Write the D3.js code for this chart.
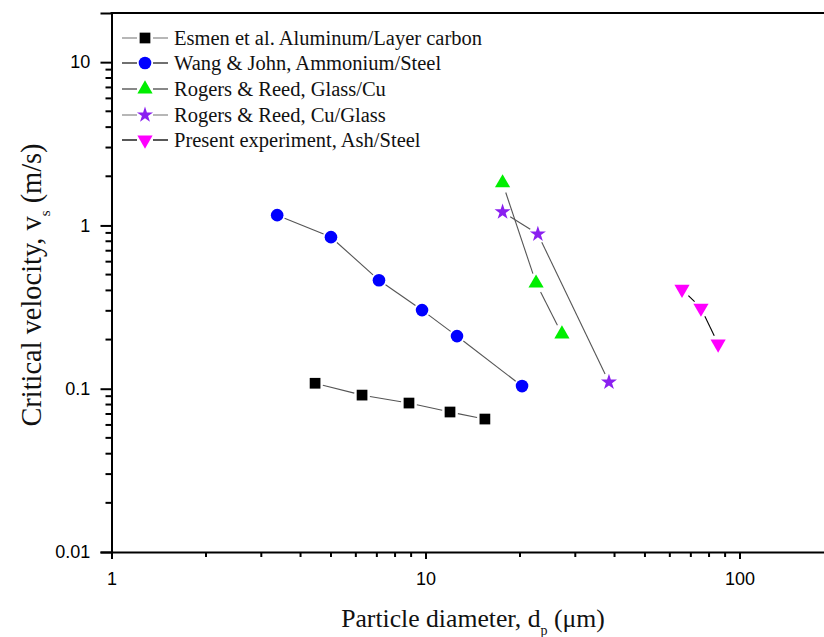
<!DOCTYPE html>
<html>
<head>
<meta charset="utf-8">
<script src="https://cdn.jsdelivr.net/npm/d3@7"></script>
<style>
  body { margin: 0; background: #fff; }
</style>
</head>
<body>
<script>
// data (diameter in um, velocity in m/s)
var esmen_d = [4.45, 6.28, 8.86, 11.97, 15.46]
var esmen_v = [0.108, 0.0914, 0.0817, 0.072, 0.0652]

var wang_d = [3.37, 5.0, 7.11, 9.75, 12.6, 20.3]
var wang_v = [1.156, 0.848, 0.462, 0.303, 0.21, 0.1038]

var rogers_gc_d = [17.6, 22.5, 27.2]
var rogers_gc_v = [1.82, 0.443, 0.216]

var rogers_cg_d = [17.6, 22.8, 38.4]
var rogers_cg_v = [1.21, 0.885, 0.1097]

var present_d = [65.6, 75.4, 85.5]
var present_v = [0.407, 0.312, 0.188]

var legend_labels = [
  'Esmen et al. Aluminum/Layer carbon',
  'Wang & John, Ammonium/Steel',
  'Rogers & Reed, Glass/Cu',
  'Rogers & Reed, Cu/Glass',
  'Present experiment, Ash/Steel'
]

var x_ticks = [1, 10, 100]
var y_ticks = [0.01, 0.1, 1, 10]

var W = 824
var H = 637
var svg = d3.select('body').append('svg').attr('width', W).attr('height', H)
  .style('font-family', 'Liberation Serif, Times New Roman, serif')

var plot_left = 111.5, plot_top = 13, plot_bottom = 552
var x = d3.scaleLog().domain([1, 200]).range([plot_left, 834])
var y = d3.scaleLog().domain([0.01, 20]).range([plot_bottom, plot_top])

var series = [
  { d: esmen_d, v: esmen_v, sym: d3.symbolSquare, size: 115, fill: '#000000', line: '#555', rot: 0, gap: 8 },
  { d: wang_d, v: wang_v, sym: d3.symbolCircle, size: 125, fill: '#0000ff', line: '#555', rot: 0, gap: 8 },
  { d: rogers_gc_d, v: rogers_gc_v, sym: d3.symbolTriangle, size: 100, fill: '#00ee00', line: '#555', rot: 0, gap: 10 },
  { d: rogers_cg_d, v: rogers_cg_v, sym: d3.symbolStar, size: 80, fill: '#8a1ff0', line: '#555', rot: 0, gap: 9 },
  { d: present_d, v: present_v, sym: d3.symbolTriangle, size: 100, fill: '#ff00ff', line: '#000', rot: 180, gap: 9 }
]

// connecting lines, with a gap near each marker
series.forEach(function (s) {
  for (var i = 0; i < s.d.length - 1; i++) {
    var x1 = x(s.d[i]), y1 = y(s.v[i]), x2 = x(s.d[i + 1]), y2 = y(s.v[i + 1])
    var len = Math.sqrt((x2 - x1) * (x2 - x1) + (y2 - y1) * (y2 - y1))
    if (len < s.gap * 2) continue
    var ux = (x2 - x1) / len, uy = (y2 - y1) / len
    svg.append('line')
      .attr('x1', x1 + ux * s.gap).attr('y1', y1 + uy * s.gap)
      .attr('x2', x2 - ux * s.gap).attr('y2', y2 - uy * s.gap)
      .attr('stroke', s.line).attr('stroke-width', 1.1)
  }
})

// markers
series.forEach(function (s) {
  var sym = d3.symbol().type(s.sym).size(s.size)
  s.d.forEach(function (dv, i) {
    svg.append('path').attr('d', sym())
      .attr('transform', 'translate(' + x(dv) + ',' + y(s.v[i]) + ') rotate(' + s.rot + ')')
      .attr('fill', s.fill)
  })
})

// axes
var xAxis = d3.axisBottom(x).tickValues(x_ticks).tickFormat(d3.format('d')).tickSize(7)
var gx = svg.append('g').attr('transform', 'translate(0,' + plot_bottom + ')').call(xAxis)
var yAxis = d3.axisLeft(y).tickValues(y_ticks).tickFormat(function (d) { return d >= 1 ? d3.format('d')(d) : String(d) }).tickSize(11)
var gy = svg.append('g').attr('transform', 'translate(' + plot_left + ',0)').call(yAxis)

;[gx, gy].forEach(function (g) {
  g.select('.domain').attr('stroke', '#000').attr('stroke-width', 2)
  g.selectAll('.tick line').attr('stroke', '#000').attr('stroke-width', 2)
  g.selectAll('.tick text').attr('font-family', 'Liberation Sans, Arial, sans-serif').attr('font-size', 18).attr('fill', '#000')
})
gx.selectAll('.tick text').attr('dy', '1.3em')
gy.selectAll('.tick text').attr('dx', '-0.4em')

// minor ticks
var x_minor = [], y_minor = []
;[1, 10, 100].forEach(function (b) {
  for (var k = 2; k <= 9; k++) if (b * k < 200) x_minor.push(b * k)
})
;[0.01, 0.1, 1, 10].forEach(function (b) {
  for (var k = 2; k <= 9; k++) if (b * k < 20) y_minor.push(b * k)
})
svg.selectAll('.xminor').data(x_minor).enter().append('line')
  .attr('x1', function (d) { return x(d) }).attr('x2', function (d) { return x(d) })
  .attr('y1', plot_bottom).attr('y2', plot_bottom + 5)
  .attr('stroke', '#000').attr('stroke-width', 2)
svg.selectAll('.yminor').data(y_minor).enter().append('line')
  .attr('y1', function (d) { return y(d) }).attr('y2', function (d) { return y(d) })
  .attr('x1', plot_left).attr('x2', plot_left - 6)
  .attr('stroke', '#000').attr('stroke-width', 2)

// top frame line
svg.append('line').attr('x1', plot_left - 1).attr('x2', W).attr('y1', plot_top).attr('y2', plot_top)
  .attr('stroke', '#000').attr('stroke-width', 2)

// axis titles
var xt = svg.append('text').attr('x', 473).attr('y', 627).attr('text-anchor', 'middle')
  .attr('font-size', 25.7).attr('fill', '#111')
xt.append('tspan').text('Particle diameter, d')
xt.append('tspan').text('p').attr('font-size', 14).attr('dy', 8)
xt.append('tspan').text(' (\u03bcm)').attr('dy', -8)

var yt = svg.append('text').attr('transform', 'translate(41,285) rotate(-90)').attr('text-anchor', 'middle')
  .attr('font-size', 28.4).attr('fill', '#111')
yt.append('tspan').text('Critical velocity, v')
yt.append('tspan').text('s').attr('font-size', 15).attr('dy', 9)
yt.append('tspan').text(' (m/s)').attr('dy', -9)

// legend
var legend_y = [38, 63, 89, 115, 140]
var legend_line = ['#999', '#333', '#555', '#999', '#111']
series.forEach(function (s, i) {
  var g = svg.append('g').attr('transform', 'translate(0,' + legend_y[i] + ')')
  g.append('line').attr('x1', 122).attr('x2', 137).attr('y1', 0).attr('y2', 0).attr('stroke', legend_line[i]).attr('stroke-width', 1.4)
  g.append('line').attr('x1', 153).attr('x2', 168).attr('y1', 0).attr('y2', 0).attr('stroke', legend_line[i]).attr('stroke-width', 1.4)
  g.append('path').attr('d', d3.symbol().type(s.sym).size(s.size)())
    .attr('transform', 'translate(145,0) rotate(' + s.rot + ')').attr('fill', s.fill)
  g.append('text').attr('x', 174).attr('y', 0).attr('dy', '0.35em')
    .attr('font-size', 20.5).attr('fill', '#111').text(legend_labels[i])
})
</script>
</body>
</html>
